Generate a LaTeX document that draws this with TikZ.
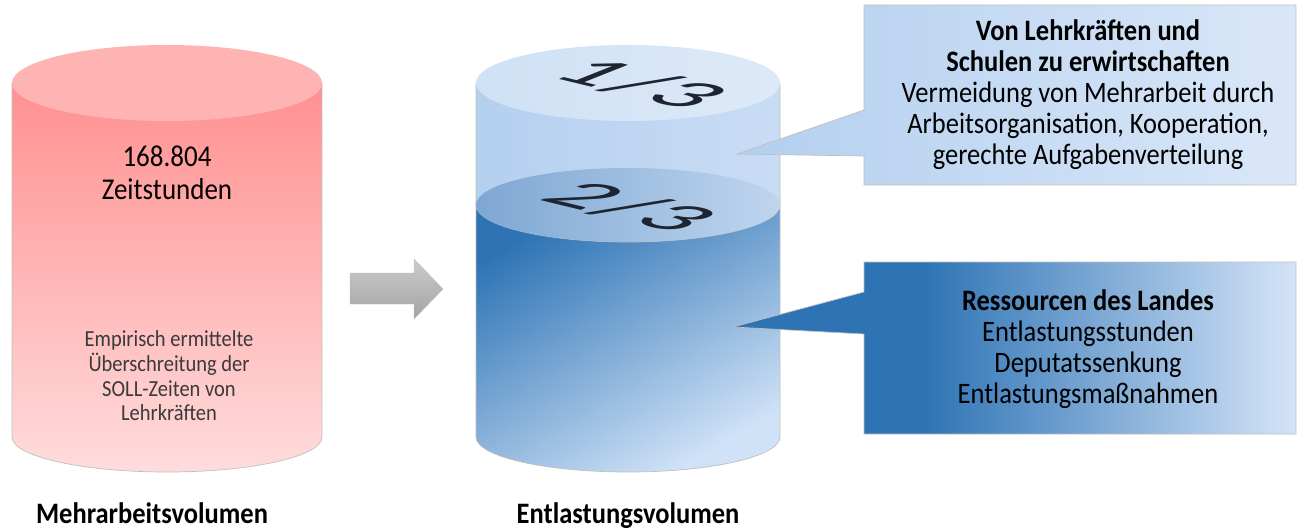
\documentclass[tikz,border=0pt]{standalone}
\usepackage{fontspec}
\setmainfont{Carlito}

\definecolor{edgeGray}{HTML}{BFBFBF}
\definecolor{pinkTop}{HTML}{FFB4B4}
\definecolor{pinkSide}{HTML}{FF9090}
\definecolor{pinkLow}{HTML}{FFDCDC}
\definecolor{capL}{HTML}{CFE1F5}
\definecolor{capR}{HTML}{DDE9F8}
\definecolor{bandL}{HTML}{B4D0EF}
\definecolor{bandR}{HTML}{C9DCF5}
\definecolor{midL}{HTML}{7EA7D3}
\definecolor{midR}{HTML}{BFD5EE}
\definecolor{lowD}{HTML}{2E74B5}
\definecolor{lowM}{HTML}{6198CF}
\definecolor{lowL}{HTML}{D0E2F7}
\definecolor{landL}{HTML}{D5E4F8}
\definecolor{calloutL}{HTML}{B3CFEF}
\definecolor{calloutR}{HTML}{DAE7F8}
\definecolor{arrowL}{HTML}{CBCBCB}
\definecolor{arrowD}{HTML}{A3A3A3}
\definecolor{fracInk}{HTML}{1E2530}
\definecolor{smallInk}{HTML}{3A3A3A}

\pgfdeclarehorizontalshading{landshade}{100bp}{color(0bp)=(lowD); color(42bp)=(lowD); color(75bp)=(landL); color(100bp)=(landL)}

\begin{document}
\begin{tikzpicture}[x=1pt,y=1pt,
    txt/.style={align=center,yscale=1.12},
    frac/.style={font=\fontsize{122}{122}\selectfont,text=fracInk,yscale=0.31,rotate=-38},
    hull/.style={draw=edgeGray,line width=0.7pt}]
    \useasboundingbox (0,0) rectangle (1297,-529);

    % Mehrarbeit
    \shadedraw[hull,top color=pinkSide,bottom color=pinkLow] (12,-83) -- (12,-437)
        arc[start angle=180,end angle=360,x radius=155,y radius=35] -- (322,-83) -- cycle;
    \fill[pinkTop] (167,-83) ellipse[x radius=155,y radius=38];

    % Entlastung
    \shadedraw[hull,left color=bandL,right color=bandR] (476,-83) -- (476,-205)
        arc[start angle=180,end angle=360,x radius=152,y radius=37] -- (780,-83) -- cycle;
    \shadedraw[hull,top color=lowD,middle color=lowM,bottom color=lowL,shading angle=30] (476,-205) -- (476,-437)
        arc[start angle=180,end angle=360,x radius=152,y radius=35] -- (780,-205)
        arc[start angle=0,end angle=-180,x radius=152,y radius=37] -- cycle;
    \shade[left color=midL,right color=midR] (628,-205) ellipse[x radius=152,y radius=37];
    \shade[left color=capL,right color=capR] (628,-83) ellipse[x radius=152,y radius=38];

    \node[frac] (eindrittel) at (642,-84) {1\kern4pt/\kern4pt3};
    \node[frac] (zweidrittel) at (631,-207) {2\kern4pt/\kern4pt3};

    % Pfeil
    \shadedraw[draw=edgeGray,top color=arrowL,bottom color=arrowD] (350,-273) -- (414,-273) -- (414,-259)
        -- (443,-289) -- (414,-319) -- (414,-304) -- (350,-304) -- cycle;

    % Sprechblasen
    \shadedraw[hull,left color=calloutL,right color=calloutR] (864,-5) -- (1296,-5) -- (1296,-185)
        -- (864,-185) -- (864,-156) -- (737,-154) -- (864,-110) -- cycle;
    \shadedraw[hull,shading=landshade] (864,-262) -- (1296,-262) -- (1296,-434)
        -- (864,-434) -- (864,-334) -- (733,-327) -- (864,-292) -- cycle;

    \node[txt,font=\fontsize{27}{29.5}\selectfont] (stunden) at (167,-173) {168.804\\Zeitstunden};
    \node[txt,font=\fontsize{20.5}{22}\selectfont,text=smallInk] (empirie) at (169,-376)
        {Empirisch ermittelte\\Überschreitung der\\SOLL-Zeiten von\\Lehrkräften};
    \node[txt,font=\fontsize{26.5}{28}\selectfont\bfseries,anchor=base] (mehr) at (152,-523) {Mehrarbeitsvolumen};
    \node[txt,font=\fontsize{26.5}{28}\selectfont\bfseries,anchor=base] (entl) at (628,-523) {Entlastungsvolumen};

    \node[txt,font=\fontsize{26.5}{27.7}\selectfont] (lehrer) at (1088,-95)
        {\textbf{Von Lehrkräften und}\\\textbf{Schulen zu erwirtschaften}\\Vermeidung von Mehrarbeit durch\\Arbeitsorganisation, Kooperation,\\gerechte Aufgabenverteilung};
    \node[txt,font=\fontsize{26.5}{27.7}\selectfont] (land) at (1088,-349)
        {\textbf{Ressourcen des Landes}\\Entlastungsstunden\\Deputatssenkung\\Entlastungsmaßnahmen};

\end{tikzpicture}
\end{document}
